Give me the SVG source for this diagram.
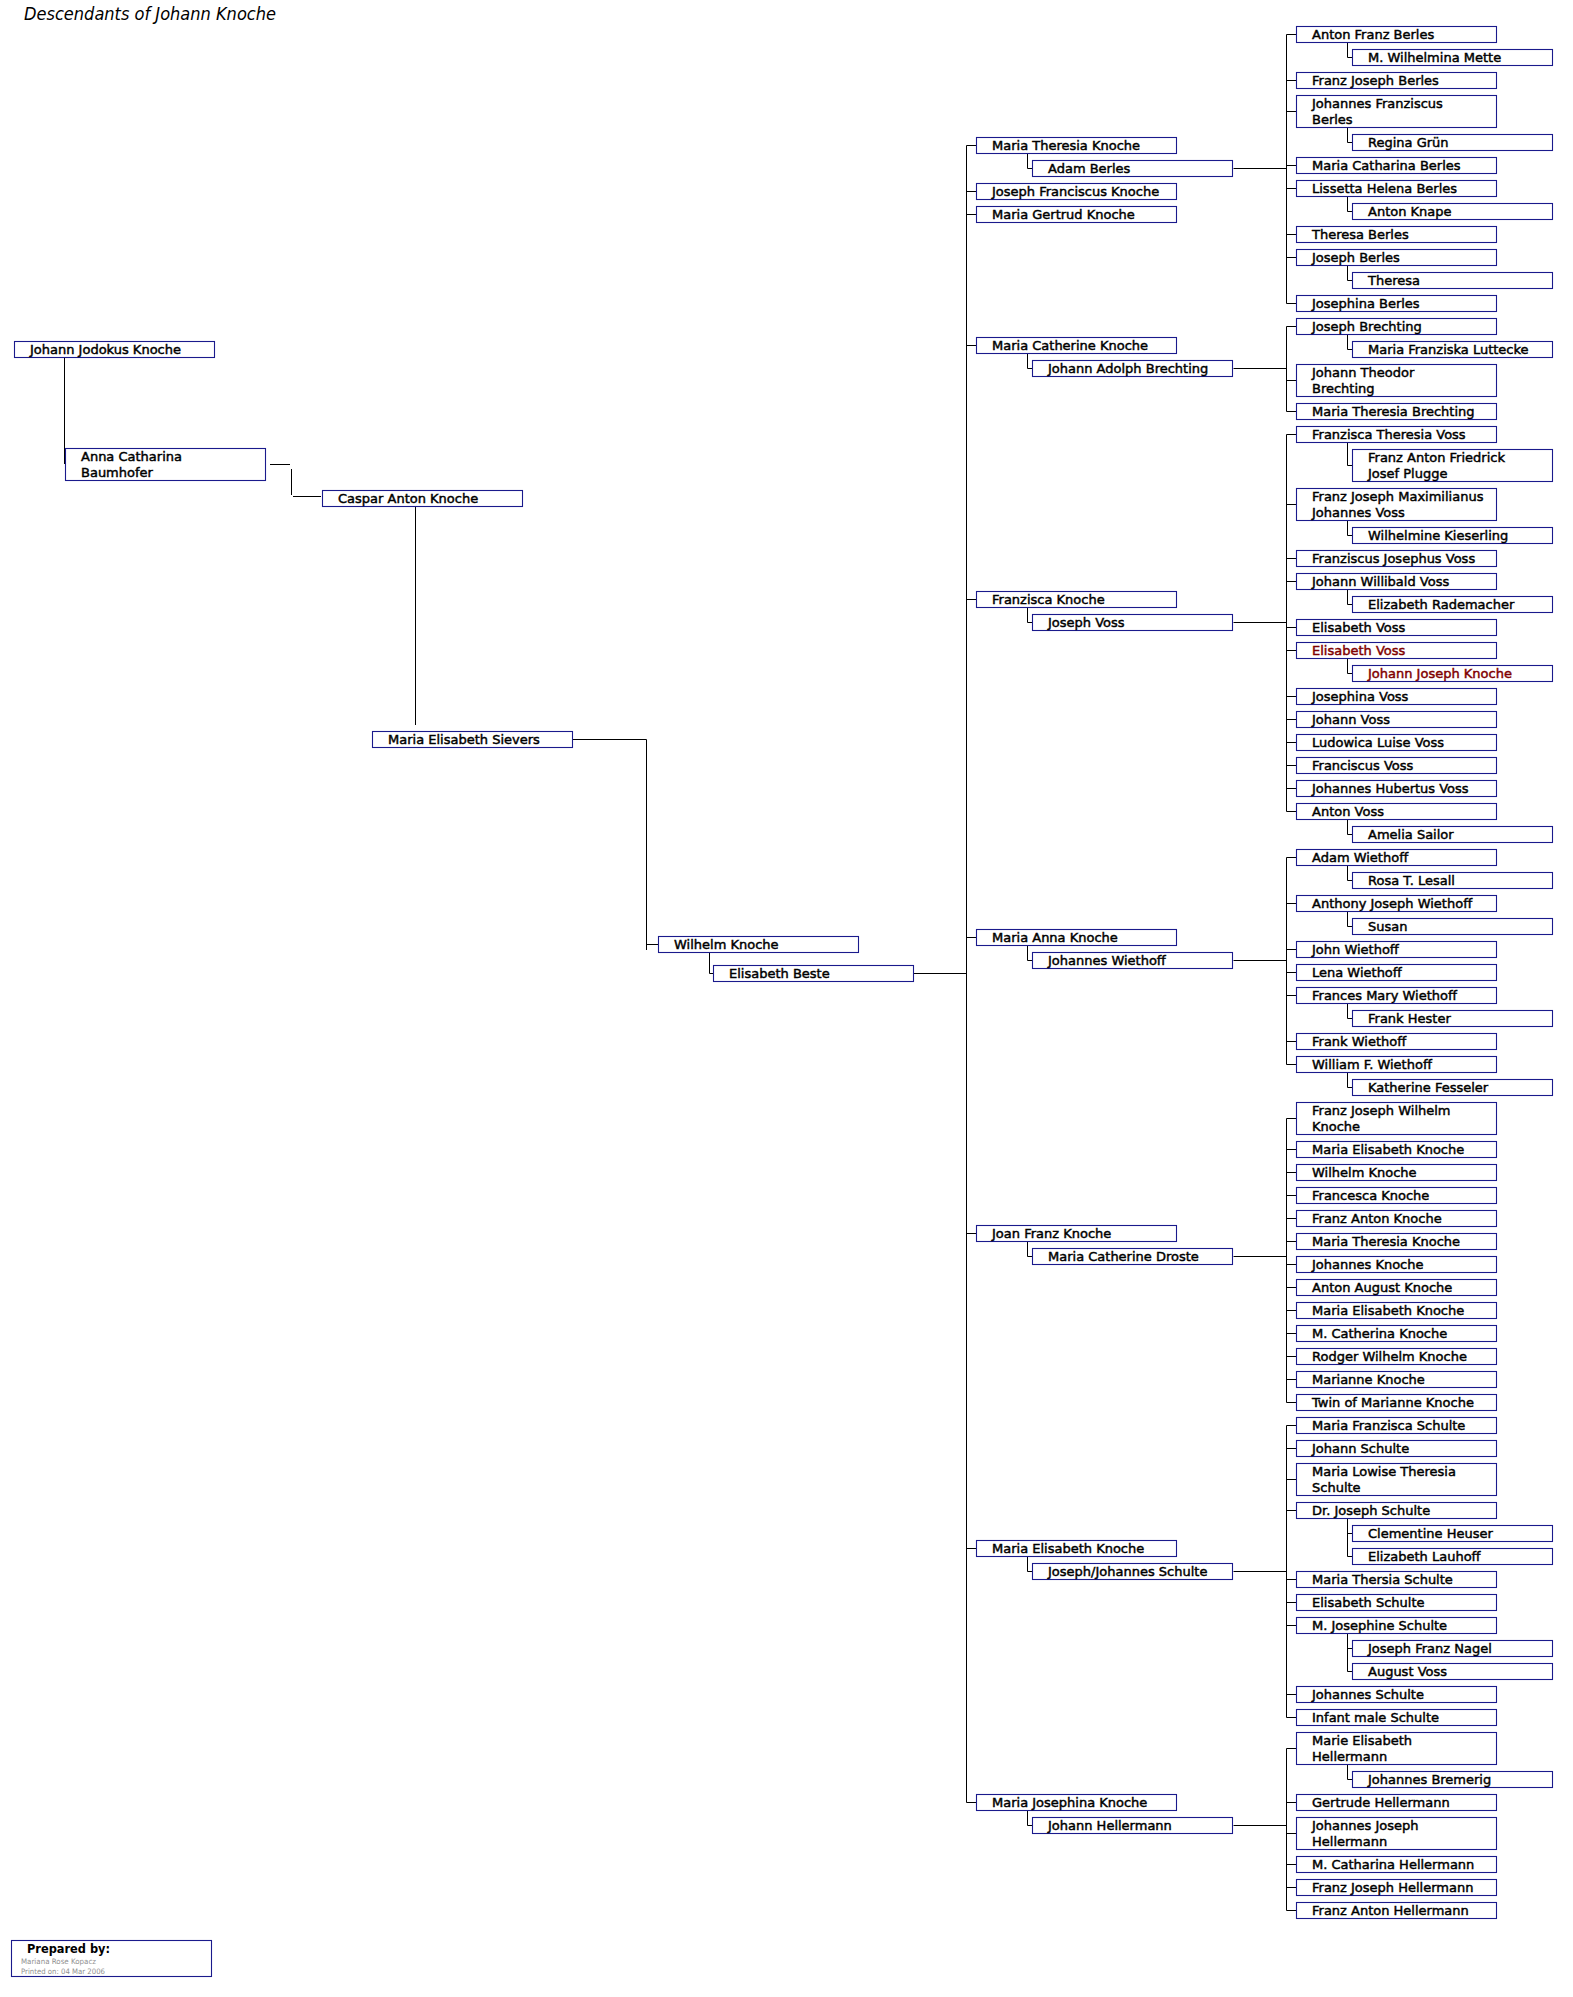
<svg xmlns="http://www.w3.org/2000/svg" width="1573" height="1997" viewBox="0 0 1573 1997">
<style>
.b{fill:#fff;stroke:#1a1a8c;stroke-width:1.1}
.t{font-family:"DejaVu Sans",Verdana,sans-serif;font-size:13px;fill:#000;stroke:#000;stroke-width:0.45}
.r{fill:#800000;stroke:#800000}
.c{stroke:#000;stroke-width:1;fill:none}
</style>
<rect width="1573" height="1997" fill="#fff"/>
<text x="24" y="20" font-family="DejaVu Sans, Verdana, sans-serif" font-style="italic" font-size="17" textLength="252" lengthAdjust="spacingAndGlyphs">Descendants of Johann Knoche</text>
<g id="connectors" class="c">
<path d="M64.5,357V464M270,464.5H290M291.5,469V495M293,496.5H321M415.5,507V725M572.5,739.5H646.5V950M646.5,944.5H658M709.5,952.5V973.5H713M913.5,973.5H966.5"/>
<path d="M966.5,145.5V1802.5M966.5,145.5H976M966.5,191.5H976M966.5,214.5H976M966.5,345.5H976M966.5,599.5H976M966.5,937.5H976M966.5,1233.5H976M966.5,1548.5H976M966.5,1802.5H976"/>
<path d="M1027.5,153V168.5H1032M1027.5,353V368.5H1032M1027.5,607V622.5H1032M1027.5,945V960.5H1032M1027.5,1241V1256.5H1032M1027.5,1556V1571.5H1032M1027.5,1810V1825.5H1032"/>
<path d="M1233.5,168.5H1286.5M1233.5,368.5H1286.5M1233.5,622.5H1286.5M1233.5,960.5H1286.5M1233.5,1256.5H1286.5M1233.5,1571.5H1286.5M1233.5,1825.5H1286.5"/>
<path d="M1286.5,34.5V303.5M1286.5,34.5H1296M1286.5,80.5H1296M1286.5,111.5H1296M1286.5,165.5H1296M1286.5,188.5H1296M1286.5,234.5H1296M1286.5,257.5H1296M1286.5,303.5H1296"/>
<path d="M1286.5,326.5V411.5M1286.5,326.5H1296M1286.5,380.5H1296M1286.5,411.5H1296"/>
<path d="M1286.5,434.5V811.5M1286.5,434.5H1296M1286.5,504.5H1296M1286.5,558.5H1296M1286.5,581.5H1296M1286.5,627.5H1296M1286.5,650.5H1296M1286.5,696.5H1296M1286.5,719.5H1296M1286.5,742.5H1296M1286.5,765.5H1296M1286.5,788.5H1296M1286.5,811.5H1296"/>
<path d="M1286.5,857.5V1064.5M1286.5,857.5H1296M1286.5,903.5H1296M1286.5,949.5H1296M1286.5,972.5H1296M1286.5,995.5H1296M1286.5,1041.5H1296M1286.5,1064.5H1296"/>
<path d="M1286.5,1118.5V1402.5M1286.5,1118.5H1296M1286.5,1149.5H1296M1286.5,1172.5H1296M1286.5,1195.5H1296M1286.5,1218.5H1296M1286.5,1241.5H1296M1286.5,1264.5H1296M1286.5,1287.5H1296M1286.5,1310.5H1296M1286.5,1333.5H1296M1286.5,1356.5H1296M1286.5,1379.5H1296M1286.5,1402.5H1296"/>
<path d="M1286.5,1425.5V1717.5M1286.5,1425.5H1296M1286.5,1448.5H1296M1286.5,1479.5H1296M1286.5,1510.5H1296M1286.5,1579.5H1296M1286.5,1602.5H1296M1286.5,1625.5H1296M1286.5,1694.5H1296M1286.5,1717.5H1296"/>
<path d="M1286.5,1748.5V1910.5M1286.5,1748.5H1296M1286.5,1802.5H1296M1286.5,1833.5H1296M1286.5,1864.5H1296M1286.5,1887.5H1296M1286.5,1910.5H1296"/>
<path d="M1347.5,42V57.5H1352M1347.5,127V142.5H1352M1347.5,196V211.5H1352M1347.5,265V280.5H1352M1347.5,334V349.5H1352M1347.5,442V465.5H1352M1347.5,520V535.5H1352M1347.5,589V604.5H1352M1347.5,658V673.5H1352M1347.5,819V834.5H1352M1347.5,865V880.5H1352M1347.5,911V926.5H1352M1347.5,1003V1018.5H1352M1347.5,1072V1087.5H1352M1347.5,1518V1556.5H1352M1347.5,1533.5H1352M1347.5,1633V1671.5H1352M1347.5,1648.5H1352M1347.5,1764V1779.5H1352"/>
</g>
<g id="n-johann-jodokus"><rect class="b" x="14.5" y="341.5" width="200" height="16"/><text class="t" x="30" y="354">Johann Jodokus Knoche</text></g>
<g id="n-anna-catharina"><rect class="b" x="65.5" y="448.5" width="200" height="32"/><text class="t" x="81" y="461">Anna Catharina</text><text class="t" x="81" y="477">Baumhofer</text></g>
<g id="n-caspar"><rect class="b" x="322.5" y="490.5" width="200" height="16"/><text class="t" x="338" y="503">Caspar Anton Knoche</text></g>
<g id="n-sievers"><rect class="b" x="372.5" y="731.5" width="200" height="16"/><text class="t" x="388" y="744">Maria Elisabeth Sievers</text></g>
<g id="n-wilhelm"><rect class="b" x="658.5" y="936.5" width="200" height="16"/><text class="t" x="674" y="949">Wilhelm Knoche</text></g>
<g id="n-beste"><rect class="b" x="713.5" y="965.5" width="200" height="16"/><text class="t" x="729" y="978">Elisabeth Beste</text></g>
<g id="n-l2-1"><rect class="b" x="976.5" y="137.5" width="200" height="16"/><text class="t" x="992" y="150">Maria Theresia Knoche</text></g>
<g id="n-l2-1s"><rect class="b" x="1032.5" y="160.5" width="200" height="16"/><text class="t" x="1048" y="173">Adam Berles</text></g>
<g id="n-l2-2"><rect class="b" x="976.5" y="183.5" width="200" height="16"/><text class="t" x="992" y="196">Joseph Franciscus Knoche</text></g>
<g id="n-l2-3"><rect class="b" x="976.5" y="206.5" width="200" height="16"/><text class="t" x="992" y="219">Maria Gertrud Knoche</text></g>
<g id="n-l2-4"><rect class="b" x="976.5" y="337.5" width="200" height="16"/><text class="t" x="992" y="350">Maria Catherine Knoche</text></g>
<g id="n-l2-4s"><rect class="b" x="1032.5" y="360.5" width="200" height="16"/><text class="t" x="1048" y="373">Johann Adolph Brechting</text></g>
<g id="n-l2-5"><rect class="b" x="976.5" y="591.5" width="200" height="16"/><text class="t" x="992" y="604">Franzisca Knoche</text></g>
<g id="n-l2-5s"><rect class="b" x="1032.5" y="614.5" width="200" height="16"/><text class="t" x="1048" y="627">Joseph Voss</text></g>
<g id="n-l2-6"><rect class="b" x="976.5" y="929.5" width="200" height="16"/><text class="t" x="992" y="942">Maria Anna Knoche</text></g>
<g id="n-l2-6s"><rect class="b" x="1032.5" y="952.5" width="200" height="16"/><text class="t" x="1048" y="965">Johannes Wiethoff</text></g>
<g id="n-l2-7"><rect class="b" x="976.5" y="1225.5" width="200" height="16"/><text class="t" x="992" y="1238">Joan Franz Knoche</text></g>
<g id="n-l2-7s"><rect class="b" x="1032.5" y="1248.5" width="200" height="16"/><text class="t" x="1048" y="1261">Maria Catherine Droste</text></g>
<g id="n-l2-8"><rect class="b" x="976.5" y="1540.5" width="200" height="16"/><text class="t" x="992" y="1553">Maria Elisabeth Knoche</text></g>
<g id="n-l2-8s"><rect class="b" x="1032.5" y="1563.5" width="200" height="16"/><text class="t" x="1048" y="1576">Joseph/Johannes Schulte</text></g>
<g id="n-l2-9"><rect class="b" x="976.5" y="1794.5" width="200" height="16"/><text class="t" x="992" y="1807">Maria Josephina Knoche</text></g>
<g id="n-l2-9s"><rect class="b" x="1032.5" y="1817.5" width="200" height="16"/><text class="t" x="1048" y="1830">Johann Hellermann</text></g>
<g id="s0"><rect class="b" x="1296.5" y="26.5" width="200" height="16"/><text class="t" x="1312" y="39">Anton Franz Berles</text></g>
<g id="s1"><rect class="b" x="1352.5" y="49.5" width="200" height="16"/><text class="t" x="1368" y="62">M. Wilhelmina Mette</text></g>
<g id="s2"><rect class="b" x="1296.5" y="72.5" width="200" height="16"/><text class="t" x="1312" y="85">Franz Joseph Berles</text></g>
<g id="s3"><rect class="b" x="1296.5" y="95.5" width="200" height="32"/><text class="t" x="1312" y="108">Johannes Franziscus</text><text class="t" x="1312" y="124">Berles</text></g>
<g id="s4"><rect class="b" x="1352.5" y="134.5" width="200" height="16"/><text class="t" x="1368" y="147">Regina Grün</text></g>
<g id="s5"><rect class="b" x="1296.5" y="157.5" width="200" height="16"/><text class="t" x="1312" y="170">Maria Catharina Berles</text></g>
<g id="s6"><rect class="b" x="1296.5" y="180.5" width="200" height="16"/><text class="t" x="1312" y="193">Lissetta Helena Berles</text></g>
<g id="s7"><rect class="b" x="1352.5" y="203.5" width="200" height="16"/><text class="t" x="1368" y="216">Anton Knape</text></g>
<g id="s8"><rect class="b" x="1296.5" y="226.5" width="200" height="16"/><text class="t" x="1312" y="239">Theresa Berles</text></g>
<g id="s9"><rect class="b" x="1296.5" y="249.5" width="200" height="16"/><text class="t" x="1312" y="262">Joseph Berles</text></g>
<g id="s10"><rect class="b" x="1352.5" y="272.5" width="200" height="16"/><text class="t" x="1368" y="285">Theresa</text></g>
<g id="s11"><rect class="b" x="1296.5" y="295.5" width="200" height="16"/><text class="t" x="1312" y="308">Josephina Berles</text></g>
<g id="s12"><rect class="b" x="1296.5" y="318.5" width="200" height="16"/><text class="t" x="1312" y="331">Joseph Brechting</text></g>
<g id="s13"><rect class="b" x="1352.5" y="341.5" width="200" height="16"/><text class="t" x="1368" y="354">Maria Franziska Luttecke</text></g>
<g id="s14"><rect class="b" x="1296.5" y="364.5" width="200" height="32"/><text class="t" x="1312" y="377">Johann Theodor</text><text class="t" x="1312" y="393">Brechting</text></g>
<g id="s15"><rect class="b" x="1296.5" y="403.5" width="200" height="16"/><text class="t" x="1312" y="416">Maria Theresia Brechting</text></g>
<g id="s16"><rect class="b" x="1296.5" y="426.5" width="200" height="16"/><text class="t" x="1312" y="439">Franzisca Theresia Voss</text></g>
<g id="s17"><rect class="b" x="1352.5" y="449.5" width="200" height="32"/><text class="t" x="1368" y="462">Franz Anton Friedrick</text><text class="t" x="1368" y="478">Josef Plugge</text></g>
<g id="s18"><rect class="b" x="1296.5" y="488.5" width="200" height="32"/><text class="t" x="1312" y="501">Franz Joseph Maximilianus</text><text class="t" x="1312" y="517">Johannes Voss</text></g>
<g id="s19"><rect class="b" x="1352.5" y="527.5" width="200" height="16"/><text class="t" x="1368" y="540">Wilhelmine Kieserling</text></g>
<g id="s20"><rect class="b" x="1296.5" y="550.5" width="200" height="16"/><text class="t" x="1312" y="563">Franziscus Josephus Voss</text></g>
<g id="s21"><rect class="b" x="1296.5" y="573.5" width="200" height="16"/><text class="t" x="1312" y="586">Johann Willibald Voss</text></g>
<g id="s22"><rect class="b" x="1352.5" y="596.5" width="200" height="16"/><text class="t" x="1368" y="609">Elizabeth Rademacher</text></g>
<g id="s23"><rect class="b" x="1296.5" y="619.5" width="200" height="16"/><text class="t" x="1312" y="632">Elisabeth Voss</text></g>
<g id="s24"><rect class="b" x="1296.5" y="642.5" width="200" height="16"/><text class="t r" x="1312" y="655">Elisabeth Voss</text></g>
<g id="s25"><rect class="b" x="1352.5" y="665.5" width="200" height="16"/><text class="t r" x="1368" y="678">Johann Joseph Knoche</text></g>
<g id="s26"><rect class="b" x="1296.5" y="688.5" width="200" height="16"/><text class="t" x="1312" y="701">Josephina Voss</text></g>
<g id="s27"><rect class="b" x="1296.5" y="711.5" width="200" height="16"/><text class="t" x="1312" y="724">Johann Voss</text></g>
<g id="s28"><rect class="b" x="1296.5" y="734.5" width="200" height="16"/><text class="t" x="1312" y="747">Ludowica Luise Voss</text></g>
<g id="s29"><rect class="b" x="1296.5" y="757.5" width="200" height="16"/><text class="t" x="1312" y="770">Franciscus Voss</text></g>
<g id="s30"><rect class="b" x="1296.5" y="780.5" width="200" height="16"/><text class="t" x="1312" y="793">Johannes Hubertus Voss</text></g>
<g id="s31"><rect class="b" x="1296.5" y="803.5" width="200" height="16"/><text class="t" x="1312" y="816">Anton Voss</text></g>
<g id="s32"><rect class="b" x="1352.5" y="826.5" width="200" height="16"/><text class="t" x="1368" y="839">Amelia Sailor</text></g>
<g id="s33"><rect class="b" x="1296.5" y="849.5" width="200" height="16"/><text class="t" x="1312" y="862">Adam Wiethoff</text></g>
<g id="s34"><rect class="b" x="1352.5" y="872.5" width="200" height="16"/><text class="t" x="1368" y="885">Rosa T. Lesall</text></g>
<g id="s35"><rect class="b" x="1296.5" y="895.5" width="200" height="16"/><text class="t" x="1312" y="908">Anthony Joseph Wiethoff</text></g>
<g id="s36"><rect class="b" x="1352.5" y="918.5" width="200" height="16"/><text class="t" x="1368" y="931">Susan</text></g>
<g id="s37"><rect class="b" x="1296.5" y="941.5" width="200" height="16"/><text class="t" x="1312" y="954">John Wiethoff</text></g>
<g id="s38"><rect class="b" x="1296.5" y="964.5" width="200" height="16"/><text class="t" x="1312" y="977">Lena Wiethoff</text></g>
<g id="s39"><rect class="b" x="1296.5" y="987.5" width="200" height="16"/><text class="t" x="1312" y="1000">Frances Mary Wiethoff</text></g>
<g id="s40"><rect class="b" x="1352.5" y="1010.5" width="200" height="16"/><text class="t" x="1368" y="1023">Frank Hester</text></g>
<g id="s41"><rect class="b" x="1296.5" y="1033.5" width="200" height="16"/><text class="t" x="1312" y="1046">Frank Wiethoff</text></g>
<g id="s42"><rect class="b" x="1296.5" y="1056.5" width="200" height="16"/><text class="t" x="1312" y="1069">William F. Wiethoff</text></g>
<g id="s43"><rect class="b" x="1352.5" y="1079.5" width="200" height="16"/><text class="t" x="1368" y="1092">Katherine Fesseler</text></g>
<g id="s44"><rect class="b" x="1296.5" y="1102.5" width="200" height="32"/><text class="t" x="1312" y="1115">Franz Joseph Wilhelm</text><text class="t" x="1312" y="1131">Knoche</text></g>
<g id="s45"><rect class="b" x="1296.5" y="1141.5" width="200" height="16"/><text class="t" x="1312" y="1154">Maria Elisabeth Knoche</text></g>
<g id="s46"><rect class="b" x="1296.5" y="1164.5" width="200" height="16"/><text class="t" x="1312" y="1177">Wilhelm Knoche</text></g>
<g id="s47"><rect class="b" x="1296.5" y="1187.5" width="200" height="16"/><text class="t" x="1312" y="1200">Francesca Knoche</text></g>
<g id="s48"><rect class="b" x="1296.5" y="1210.5" width="200" height="16"/><text class="t" x="1312" y="1223">Franz Anton Knoche</text></g>
<g id="s49"><rect class="b" x="1296.5" y="1233.5" width="200" height="16"/><text class="t" x="1312" y="1246">Maria Theresia Knoche</text></g>
<g id="s50"><rect class="b" x="1296.5" y="1256.5" width="200" height="16"/><text class="t" x="1312" y="1269">Johannes Knoche</text></g>
<g id="s51"><rect class="b" x="1296.5" y="1279.5" width="200" height="16"/><text class="t" x="1312" y="1292">Anton August Knoche</text></g>
<g id="s52"><rect class="b" x="1296.5" y="1302.5" width="200" height="16"/><text class="t" x="1312" y="1315">Maria Elisabeth Knoche</text></g>
<g id="s53"><rect class="b" x="1296.5" y="1325.5" width="200" height="16"/><text class="t" x="1312" y="1338">M. Catherina Knoche</text></g>
<g id="s54"><rect class="b" x="1296.5" y="1348.5" width="200" height="16"/><text class="t" x="1312" y="1361">Rodger Wilhelm Knoche</text></g>
<g id="s55"><rect class="b" x="1296.5" y="1371.5" width="200" height="16"/><text class="t" x="1312" y="1384">Marianne Knoche</text></g>
<g id="s56"><rect class="b" x="1296.5" y="1394.5" width="200" height="16"/><text class="t" x="1312" y="1407">Twin of Marianne Knoche</text></g>
<g id="s57"><rect class="b" x="1296.5" y="1417.5" width="200" height="16"/><text class="t" x="1312" y="1430">Maria Franzisca Schulte</text></g>
<g id="s58"><rect class="b" x="1296.5" y="1440.5" width="200" height="16"/><text class="t" x="1312" y="1453">Johann Schulte</text></g>
<g id="s59"><rect class="b" x="1296.5" y="1463.5" width="200" height="32"/><text class="t" x="1312" y="1476">Maria Lowise Theresia</text><text class="t" x="1312" y="1492">Schulte</text></g>
<g id="s60"><rect class="b" x="1296.5" y="1502.5" width="200" height="16"/><text class="t" x="1312" y="1515">Dr. Joseph Schulte</text></g>
<g id="s61"><rect class="b" x="1352.5" y="1525.5" width="200" height="16"/><text class="t" x="1368" y="1538">Clementine Heuser</text></g>
<g id="s62"><rect class="b" x="1352.5" y="1548.5" width="200" height="16"/><text class="t" x="1368" y="1561">Elizabeth Lauhoff</text></g>
<g id="s63"><rect class="b" x="1296.5" y="1571.5" width="200" height="16"/><text class="t" x="1312" y="1584">Maria Thersia Schulte</text></g>
<g id="s64"><rect class="b" x="1296.5" y="1594.5" width="200" height="16"/><text class="t" x="1312" y="1607">Elisabeth Schulte</text></g>
<g id="s65"><rect class="b" x="1296.5" y="1617.5" width="200" height="16"/><text class="t" x="1312" y="1630">M. Josephine Schulte</text></g>
<g id="s66"><rect class="b" x="1352.5" y="1640.5" width="200" height="16"/><text class="t" x="1368" y="1653">Joseph Franz Nagel</text></g>
<g id="s67"><rect class="b" x="1352.5" y="1663.5" width="200" height="16"/><text class="t" x="1368" y="1676">August Voss</text></g>
<g id="s68"><rect class="b" x="1296.5" y="1686.5" width="200" height="16"/><text class="t" x="1312" y="1699">Johannes Schulte</text></g>
<g id="s69"><rect class="b" x="1296.5" y="1709.5" width="200" height="16"/><text class="t" x="1312" y="1722">Infant male Schulte</text></g>
<g id="s70"><rect class="b" x="1296.5" y="1732.5" width="200" height="32"/><text class="t" x="1312" y="1745">Marie Elisabeth</text><text class="t" x="1312" y="1761">Hellermann</text></g>
<g id="s71"><rect class="b" x="1352.5" y="1771.5" width="200" height="16"/><text class="t" x="1368" y="1784">Johannes Bremerig</text></g>
<g id="s72"><rect class="b" x="1296.5" y="1794.5" width="200" height="16"/><text class="t" x="1312" y="1807">Gertrude Hellermann</text></g>
<g id="s73"><rect class="b" x="1296.5" y="1817.5" width="200" height="32"/><text class="t" x="1312" y="1830">Johannes Joseph</text><text class="t" x="1312" y="1846">Hellermann</text></g>
<g id="s74"><rect class="b" x="1296.5" y="1856.5" width="200" height="16"/><text class="t" x="1312" y="1869">M. Catharina Hellermann</text></g>
<g id="s75"><rect class="b" x="1296.5" y="1879.5" width="200" height="16"/><text class="t" x="1312" y="1892">Franz Joseph Hellermann</text></g>
<g id="s76"><rect class="b" x="1296.5" y="1902.5" width="200" height="16"/><text class="t" x="1312" y="1915">Franz Anton Hellermann</text></g>
<g id="prepared"><rect class="b" x="11.5" y="1940.5" width="200" height="36"/><text x="27" y="1953" font-family="DejaVu Sans, Verdana, sans-serif" font-weight="bold" font-size="12.5" textLength="83" lengthAdjust="spacingAndGlyphs">Prepared by:</text><text x="21" y="1964" font-family="DejaVu Sans, Verdana, sans-serif" font-size="7.5" fill="#909090" textLength="75" lengthAdjust="spacingAndGlyphs">Mariana Rose Kopacz</text><text x="21" y="1974" font-family="DejaVu Sans, Verdana, sans-serif" font-size="7.5" fill="#909090" textLength="84" lengthAdjust="spacingAndGlyphs">Printed on: 04 Mar 2006</text></g>
</svg>
